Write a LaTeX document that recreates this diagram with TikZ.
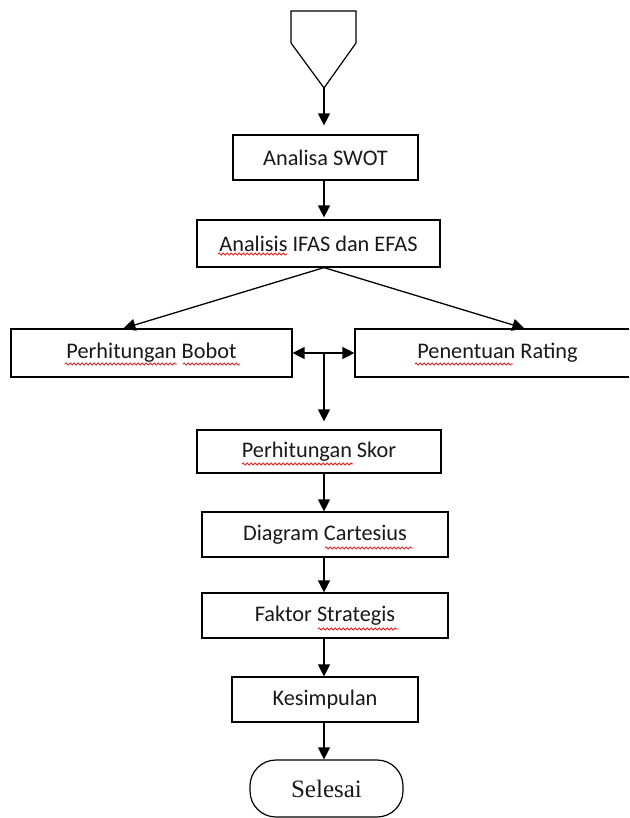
\documentclass[tikz,border=0pt]{standalone}
\usepackage{fontspec}
\setmainfont{Carlito}
\newfontfamily\serifface{Liberation Serif}
\usetikzlibrary{arrows.meta,decorations.pathmorphing}
\begin{document}
\begin{tikzpicture}[x=1pt,y=-1pt,
  box/.style={draw=black,line width=1.2pt,inner sep=0pt,
    font=\fontsize{22.3}{26}\selectfont,text=black!90},
  arr/.style={line width=1.3pt,-{Triangle[width=12pt,length=12pt]}},
  darr/.style={line width=1.3pt,{Triangle[width=12pt,length=12pt]}-{Triangle[width=12pt,length=12pt]}},
  wave/.style={red,line width=0.7pt,decorate,decoration={snake,amplitude=1.1pt,segment length=4pt}}]
\fill[white] (0,0) rectangle (629,818);
\useasboundingbox (0,0) rectangle (629,818);
\clip (0,0) rectangle (629,818);
\coordinate (col) at (324,0);
% off-page connector
\draw[line width=1.2pt] (291,11) -- (356,11) -- (356,43) -- (324,88) -- (291,43) -- cycle;
\coordinate (start) at (324,88);
% boxes
\node[box,minimum width=185pt,minimum height=45pt] (swot) at (325.5,157.5) {Analisa SWOT};
\node[box,minimum width=243pt,minimum height=47pt] (ifas) at (318.5,243.5) {Analisis IFAS dan EFAS};
\node[box,minimum width=281pt,minimum height=48pt] (bobot) at (151.5,353) {Perhitungan Bobot};
\node[box,minimum width=285pt,minimum height=48pt] (rating) at (497.5,353) {Penentuan Rating};
\node[box,minimum width=244pt,minimum height=43pt] (skor) at (319,451.5) {Perhitungan Skor};
\node[box,minimum width=246pt,minimum height=45pt] (diag) at (325,534.5) {Diagram Cartesius};
\node[box,minimum width=246pt,minimum height=45pt] (faktor) at (325,615.5) {Faktor Strategis};
\node[box,minimum width=186pt,minimum height=45pt] (kes) at (325,699.5) {Kesimpulan};
\node[box,rounded corners=26pt,minimum width=153pt,minimum height=57pt,
  font=\serifface\fontsize{25}{29}\selectfont] (sel) at (326.5,788.5) {Selesai};
% spell-check underlines
\draw[wave] (218,254) -- (287,254);
\draw[wave] (65,364) -- (177,364);
\draw[wave] (183,364) -- (240,364);
\draw[wave] (415,364) -- (513,364);
\draw[wave] (242,464) -- (353,464);
\draw[wave] (325,548) -- (413,548);
\draw[wave] (318,629) -- (398,629);
% connectors
\draw[arr,shorten >=9pt] (start) -- (swot.north -| col);
\draw[arr,shorten >=2pt] (swot.south -| col) -- (ifas.north -| col);
\draw[arr] (ifas.south -| col) -- ([xshift=113pt]bobot.north west);
\draw[arr] (ifas.south -| col) -- ([xshift=170pt]rating.north west);
\draw[darr] (bobot.east) -- (rating.west);
\draw[arr,shorten >=8pt] (col |- bobot.east) -- (skor.north -| col);
\draw[arr] (skor.south -| col) -- (diag.north -| col);
\draw[arr] (diag.south -| col) -- (faktor.north -| col);
\draw[arr] (faktor.south -| col) -- (kes.north -| col);
\draw[arr] (kes.south -| col) -- (sel.north -| col);
\end{tikzpicture}
\end{document}
